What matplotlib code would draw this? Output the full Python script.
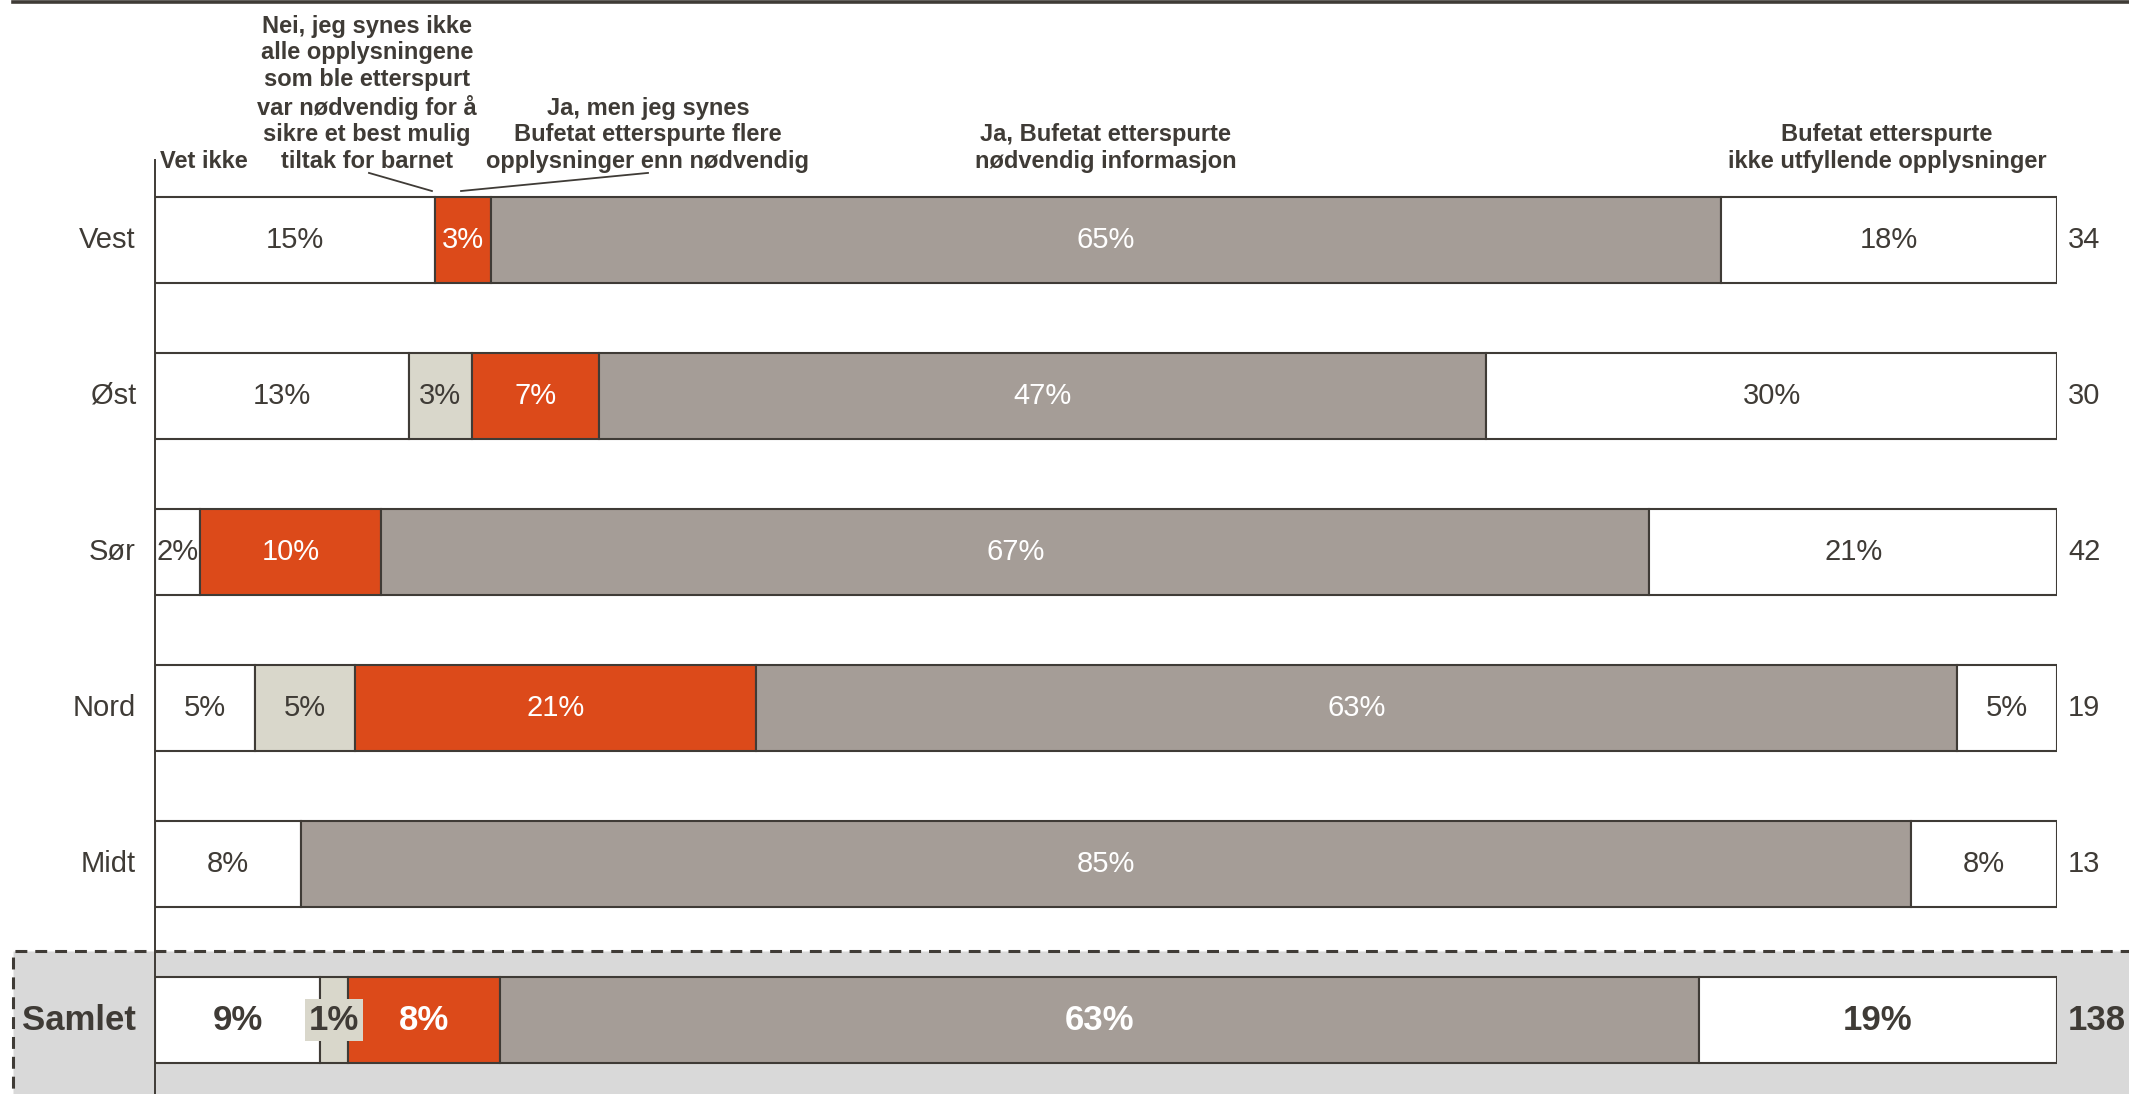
import matplotlib.pyplot as plt
from matplotlib.patches import Rectangle
from matplotlib.lines import Line2D

plt.rcParams['font.family'] = ['Liberation Sans', 'DejaVu Sans']

# Antall svar per region og svaralternativ (andel = antall / n)
regions = ['Vest', 'Øst', 'Sør', 'Nord', 'Midt', 'Samlet']
vet_ikke = [5, 4, 1, 1, 1, 12]
nei_ikke_nodvendig = [0, 1, 0, 1, 0, 2]
ja_flere_enn_nodvendig = [1, 2, 4, 4, 0, 11]
ja_nodvendig = [22, 14, 28, 12, 11, 87]
ikke_utfyllende = [6, 9, 9, 1, 1, 26]
n_svar = [34, 30, 42, 19, 13, 138]

headers = ['Vet ikke',
           'Nei, jeg synes ikke\nalle opplysningene\nsom ble etterspurt\nvar nødvendig for å\nsikre et best mulig\ntiltak for barnet',
           'Ja, men jeg synes\nBufetat etterspurte flere\nopplysninger enn nødvendig',
           'Ja, Bufetat etterspurte\nnødvendig informasjon',
           'Bufetat etterspurte\nikke utfyllende opplysninger']

series = [vet_ikke, nei_ikke_nodvendig, ja_flere_enn_nodvendig, ja_nodvendig, ikke_utfyllende]
colors = ['white', '#d9d7cb', '#dc4a1a', '#a59d97', 'white']
text_colors = ['#3f3b36', '#3f3b36', 'white', 'white', '#3f3b36']
dark = '#3f3b36'

W, H = 2129, 1094
fig = plt.figure(figsize=(W / 100, H / 100), dpi=100)
ax = fig.add_axes([155 / W, 0, 1902 / W, 1])
ax.patch.set_visible(False)
ax.set_xlim(0, 100)
ax.set_ylim((H - 240) / 156, -240 / 156)
ax.axis('off')

# grå ramme rundt "Samlet"
fig.patches.append(Rectangle((13 / W, -0.02), 1.0, 1 - 951 / H + 0.02, transform=fig.transFigure,
                             facecolor='#d9d9d9', edgecolor=dark, lw=2.2,
                             linestyle=(0, (3.9, 2.6)), zorder=-1))
# linje øverst
fig.add_artist(Line2D([13 / W, 1], [1 - 1.5 / H, 1 - 1.5 / H], color=dark, lw=2.6))

ax.plot([0, 0], [-0.51, 6], color=dark, lw=1.4, clip_on=False, zorder=1)

for i, reg in enumerate(regions):
    n = n_svar[i]
    bold = reg == 'Samlet'
    size = 25 if bold else 21
    weight = 'bold' if bold else 'normal'
    left = 0
    for k, s in enumerate(series):
        val = s[i] / n * 100
        if s[i] == 0:
            continue
        ax.barh(i, val, left=left, height=0.55, color=colors[k], edgecolor=dark, lw=1.5, zorder=2)
        kw = {}
        if bold and k == 1:
            kw['bbox'] = dict(boxstyle='square,pad=0.12', fc=colors[k], ec='none')
        ax.text(left + val / 2, i, f'{round(val)}%', ha='center', va='center',
                color=text_colors[k], fontsize=size, fontweight=weight, zorder=3, **kw)
        left += val
    ax.text(-1.0, i, reg, ha='right', va='center', color=dark, fontsize=size, fontweight=weight)
    ax.text(100.58, i, str(n), ha='left', va='center', color=dark, fontsize=size,
            fontweight=weight, clip_on=False)

# overskrifter
head_x = [0.26, 11.15, 25.92, 50.0, 91.06]
head_ha = ['left', 'center', 'center', 'center', 'center']
for t, x, ha in zip(headers, head_x, head_ha):
    ax.text(x, -0.43, t, ha=ha, va='bottom', multialignment='center', color=dark,
            fontsize=17, fontweight='bold')

ax.plot([11.25, 14.56], [-0.43, -0.314], color=dark, lw=1.3, clip_on=False)
ax.plot([25.92, 16.09], [-0.43, -0.314], color=dark, lw=1.3, clip_on=False)

fig.savefig('out.png', dpi=100)
